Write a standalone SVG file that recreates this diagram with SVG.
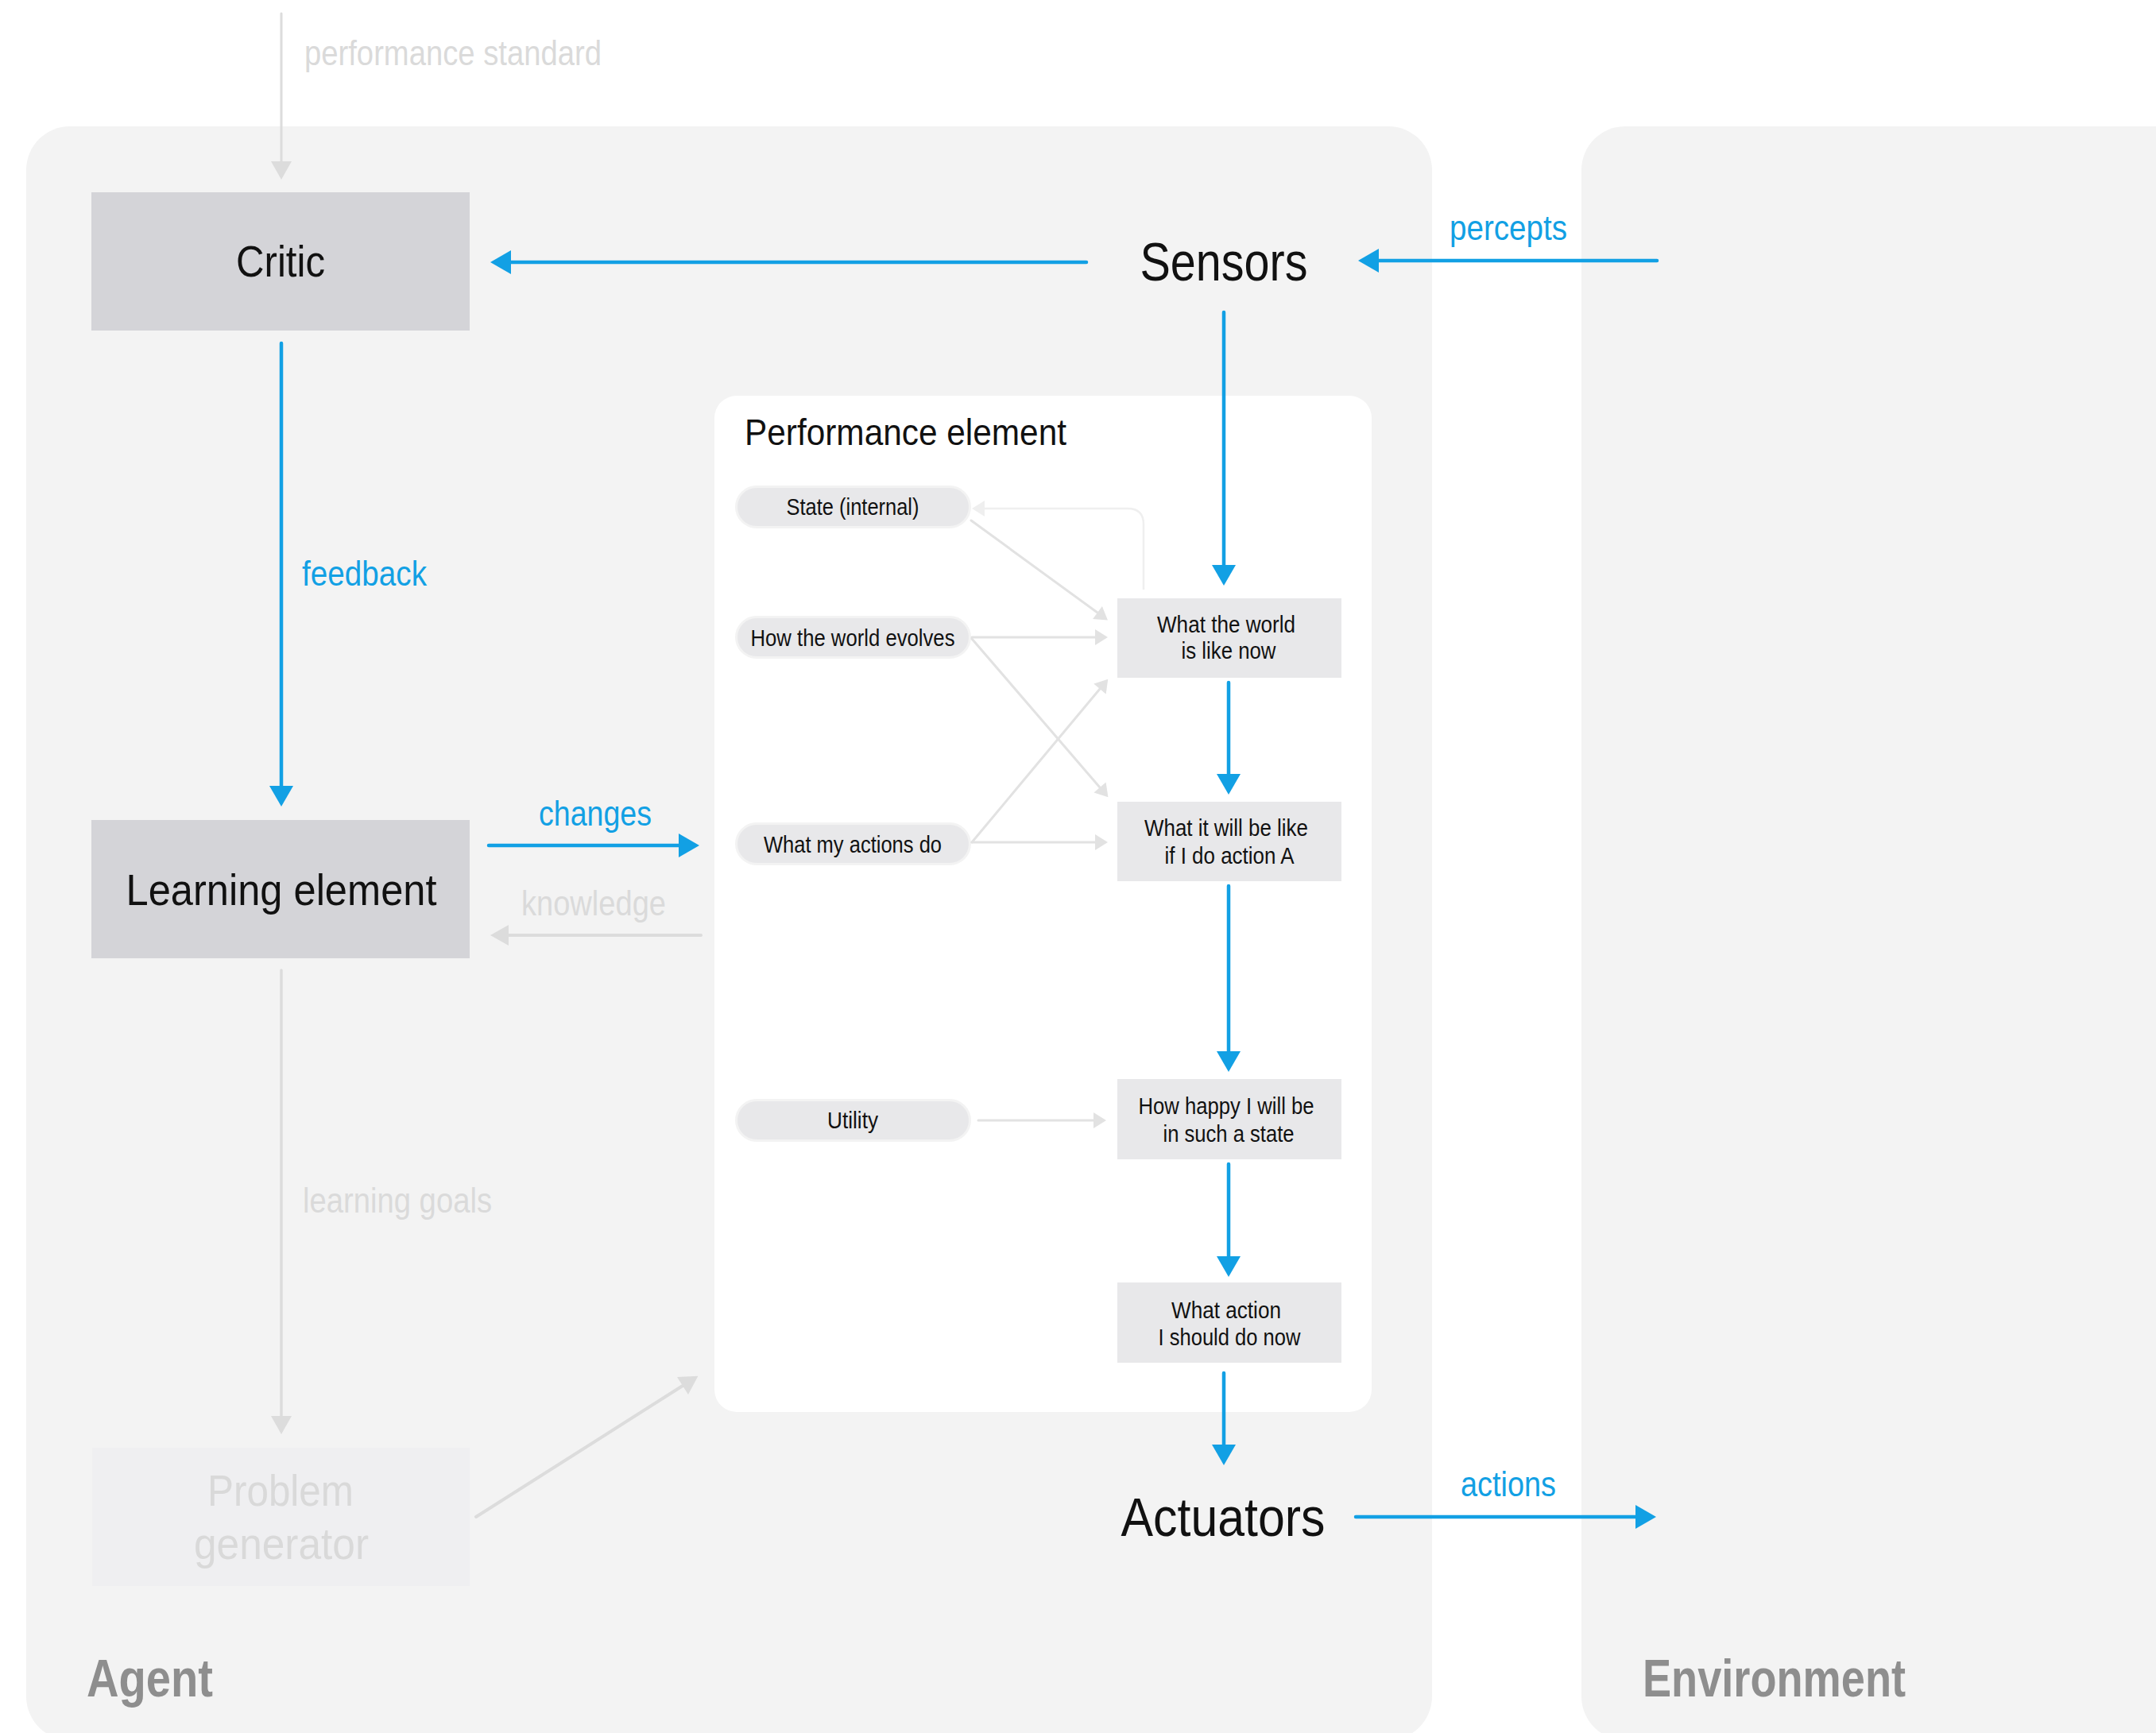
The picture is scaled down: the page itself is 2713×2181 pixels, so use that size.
<svg xmlns="http://www.w3.org/2000/svg" width="2713" height="2181" viewBox="0 0 2713 2181">
  <style>
    text { font-family: "Liberation Sans", Arial, sans-serif; }
    .panel { fill: #f3f3f3; }
    .inner { fill: #ffffff; }
    .big { fill: #d4d4d8; }
    .cell { fill: #e8e8ea; }
    .pill { fill: #e8e8ea; stroke: #f3f3f3; stroke-width: 6; paint-order: stroke; }
    .ghost { fill: #efeff1; }
    .t-big { font-size: 56px; fill: #111; text-anchor: middle; }
    .t-io { font-size: 68px; fill: #111; text-anchor: middle; }
    .t-pe { font-size: 47px; fill: #111; }
    .t-small { font-size: 29px; fill: #111; text-anchor: middle; }
    .t-blue { font-size: 44px; fill: #12a0e4; }
    .t-grey { font-size: 44px; fill: #dadada; }
    .t-ghost { font-size: 55px; fill: #d9d9d9; text-anchor: middle; }
    .t-zone { font-size: 67px; font-weight: bold; fill: #8e8e8e; }
    .blue { stroke: #12a0e4; stroke-width: 4.5; stroke-linecap: round; fill: none; marker-end: url(#headBlue); }
    .grey { stroke: #dcdcdc; stroke-width: 4; stroke-linecap: round; fill: none; marker-end: url(#headGrey); }
    .thin { stroke: #e2e2e2; stroke-width: 3; stroke-linecap: round; fill: none; marker-end: url(#headThin); }
    .faint { stroke: #efefef; stroke-width: 2.5; fill: none; marker-end: url(#headFaint); }
  </style>
  <defs>
    <marker id="headBlue" markerUnits="userSpaceOnUse" viewBox="-1 -16 28 32" markerWidth="28" markerHeight="32" refX="0" refY="0" orient="auto">
      <path d="M0,-15 L26,0 L0,15 Z" fill="#12a0e4"/>
    </marker>
    <marker id="headGrey" markerUnits="userSpaceOnUse" viewBox="-1 -14 26 28" markerWidth="26" markerHeight="28" refX="0" refY="0" orient="auto">
      <path d="M0,-13 L23,0 L0,13 Z" fill="#dcdcdc"/>
    </marker>
    <marker id="headThin" markerUnits="userSpaceOnUse" viewBox="-1 -11 18 22" markerWidth="18" markerHeight="22" refX="0" refY="0" orient="auto">
      <path d="M0,-10 L16,0 L0,10 Z" fill="#e2e2e2"/>
    </marker>
    <marker id="headFaint" markerUnits="userSpaceOnUse" viewBox="-1 -11 18 22" markerWidth="18" markerHeight="22" refX="0" refY="0" orient="auto">
      <path d="M0,-10 L16,0 L0,10 Z" fill="#efefef"/>
    </marker>
  </defs>

  <rect width="2713" height="2181" fill="#ffffff"/>

  <!-- zones -->
  <g id="agent">
    <rect class="panel" x="33" y="159" width="1769" height="2031" rx="55"/>
    <text class="t-zone" x="109" y="2135" textLength="159" lengthAdjust="spacingAndGlyphs">Agent</text>
  </g>
  <g id="environment">
    <rect class="panel" x="1990" y="159" width="800" height="2031" rx="55"/>
    <text class="t-zone" x="2067" y="2135" textLength="331" lengthAdjust="spacingAndGlyphs">Environment</text>
  </g>

  <!-- performance element container -->
  <g id="performance-element">
    <rect class="inner" x="899" y="498" width="827" height="1279" rx="28"/>
    <text class="t-pe" x="937" y="560" textLength="405" lengthAdjust="spacingAndGlyphs">Performance element</text>
  </g>

  <!-- top-level nodes -->
  <g id="critic">
    <rect class="big" x="115" y="242" width="476" height="174"/>
    <text class="t-big" x="353" y="348" textLength="112" lengthAdjust="spacingAndGlyphs">Critic</text>
  </g>
  <g id="learning-element">
    <rect class="big" x="115" y="1032" width="476" height="174"/>
    <text class="t-big" x="354" y="1139" textLength="391" lengthAdjust="spacingAndGlyphs">Learning element</text>
  </g>
  <g id="problem-generator">
    <rect class="ghost" x="116" y="1822" width="475" height="174"/>
    <text class="t-ghost" x="353" y="1895" textLength="184" lengthAdjust="spacingAndGlyphs">Problem</text>
    <text class="t-ghost" x="354" y="1962" textLength="220" lengthAdjust="spacingAndGlyphs">generator</text>
  </g>
  <g id="sensors">
    <text class="t-io" x="1540" y="353" textLength="211" lengthAdjust="spacingAndGlyphs">Sensors</text>
  </g>
  <g id="actuators">
    <text class="t-io" x="1539" y="1933" textLength="257" lengthAdjust="spacingAndGlyphs">Actuators</text>
  </g>

  <!-- knowledge inputs -->
  <g id="state-internal">
    <rect class="pill" x="928" y="614" width="291" height="48" rx="24"/>
    <text class="t-small" x="1073" y="648" textLength="167" lengthAdjust="spacingAndGlyphs">State (internal)</text>
  </g>
  <g id="how-world-evolves">
    <rect class="pill" x="928" y="778" width="291" height="48" rx="24"/>
    <text class="t-small" x="1073" y="813" textLength="257" lengthAdjust="spacingAndGlyphs">How the world evolves</text>
  </g>
  <g id="what-my-actions-do">
    <rect class="pill" x="928" y="1038" width="291" height="48" rx="24"/>
    <text class="t-small" x="1073" y="1073" textLength="224" lengthAdjust="spacingAndGlyphs">What my actions do</text>
  </g>
  <g id="utility">
    <rect class="pill" x="928" y="1386" width="291" height="48" rx="24"/>
    <text class="t-small" x="1073" y="1420" textLength="64" lengthAdjust="spacingAndGlyphs">Utility</text>
  </g>

  <!-- reasoning chain -->
  <g id="world-now">
    <rect class="cell" x="1406" y="753" width="282" height="100"/>
    <text class="t-small" x="1543" y="796" textLength="174" lengthAdjust="spacingAndGlyphs">What the world</text>
    <text class="t-small" x="1546" y="829" textLength="119" lengthAdjust="spacingAndGlyphs">is like now</text>
  </g>
  <g id="world-if-action">
    <rect class="cell" x="1406" y="1009" width="282" height="100"/>
    <text class="t-small" x="1543" y="1052" textLength="206" lengthAdjust="spacingAndGlyphs">What it will be like</text>
    <text class="t-small" x="1547" y="1087" textLength="163" lengthAdjust="spacingAndGlyphs">if I do action A</text>
  </g>
  <g id="how-happy">
    <rect class="cell" x="1406" y="1358" width="282" height="101"/>
    <text class="t-small" x="1543" y="1402" textLength="221" lengthAdjust="spacingAndGlyphs">How happy I will be</text>
    <text class="t-small" x="1546" y="1437" textLength="165" lengthAdjust="spacingAndGlyphs">in such a state</text>
  </g>
  <g id="action-now">
    <rect class="cell" x="1406" y="1614" width="282" height="101"/>
    <text class="t-small" x="1543" y="1659" textLength="138" lengthAdjust="spacingAndGlyphs">What action</text>
    <text class="t-small" x="1547" y="1693" textLength="179" lengthAdjust="spacingAndGlyphs">I should do now</text>
  </g>

  <!-- connectors -->
  <g id="connectors">
    <line class="grey" x1="354" y1="17" x2="354" y2="203" style="stroke-width:3"/>
    <line class="blue" x1="1367" y1="330" x2="643" y2="330"/>
    <line class="blue" x1="2085" y1="328" x2="1735" y2="328"/>
    <line class="blue" x1="354" y1="432" x2="354" y2="989"/>
    <line class="blue" x1="615" y1="1064" x2="854" y2="1064"/>
    <line class="grey" x1="882" y1="1177" x2="640" y2="1177"/>
    <line class="grey" x1="354" y1="1221" x2="354" y2="1782" style="stroke-width:3.5"/>
    <line class="grey" x1="599" y1="1909" x2="859" y2="1744"/>

    <line class="blue" x1="1540" y1="393" x2="1540" y2="711"/>
    <line class="blue" x1="1546" y1="859" x2="1546" y2="974"/>
    <line class="blue" x1="1546" y1="1115" x2="1546" y2="1323"/>
    <line class="blue" x1="1546" y1="1465" x2="1546" y2="1581"/>
    <line class="blue" x1="1540" y1="1728" x2="1540" y2="1818"/>
    <line class="blue" x1="1706" y1="1909" x2="2058" y2="1909"/>

    <path class="faint" d="M1439,742 V660 Q1439,640 1419,640 H1239"/>
    <line class="thin" x1="1222" y1="655" x2="1381" y2="771"/>
    <line class="thin" x1="1223" y1="802" x2="1378" y2="802"/>
    <line class="thin" x1="1223" y1="804" x2="1384" y2="991"/>
    <line class="thin" x1="1223" y1="1060" x2="1384" y2="867"/>
    <line class="thin" x1="1223" y1="1060" x2="1378" y2="1060"/>
    <line class="thin" x1="1231" y1="1410" x2="1376" y2="1410"/>
  </g>

  <!-- connector labels -->
  <g id="labels">
    <text class="t-grey" x="383" y="82" textLength="374" lengthAdjust="spacingAndGlyphs">performance standard</text>
    <text class="t-blue" x="1824" y="302" textLength="148" lengthAdjust="spacingAndGlyphs">percepts</text>
    <text class="t-blue" x="380" y="737" textLength="157" lengthAdjust="spacingAndGlyphs">feedback</text>
    <text class="t-blue" x="678" y="1039" textLength="142" lengthAdjust="spacingAndGlyphs">changes</text>
    <text class="t-grey" x="656" y="1152" textLength="182" lengthAdjust="spacingAndGlyphs">knowledge</text>
    <text class="t-grey" x="381" y="1526" textLength="238" lengthAdjust="spacingAndGlyphs">learning goals</text>
    <text class="t-blue" x="1838" y="1883" textLength="120" lengthAdjust="spacingAndGlyphs">actions</text>
  </g>
</svg>
